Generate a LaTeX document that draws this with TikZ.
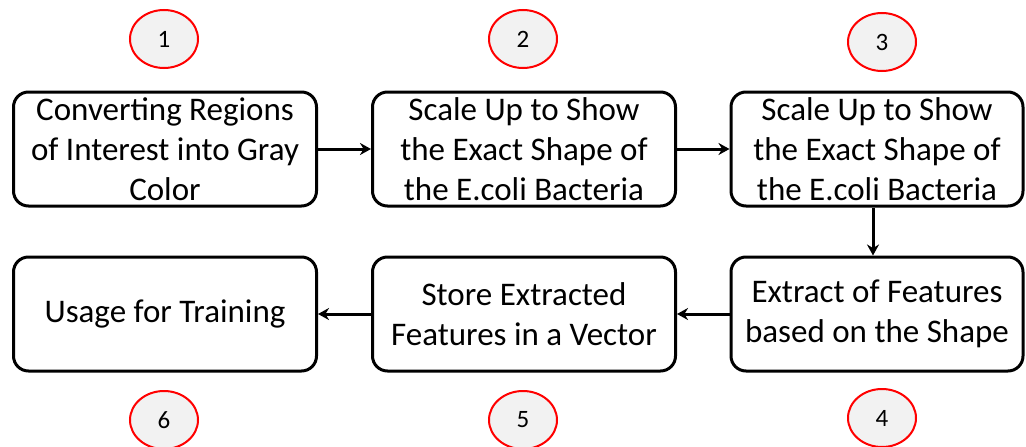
\documentclass[tikz,border=0pt]{standalone}
\usepackage{fontspec}
\setmainfont{Carlito}
\usetikzlibrary{arrows.meta,shapes.geometric}
\begin{document}
\begin{tikzpicture}[x=1pt,y=-1pt,
  stepbox/.style={draw=black, line width=3pt, rounded corners=15pt, fill=white,
    minimum width=303pt, minimum height=114pt, inner sep=0pt, align=center,
    font=\fontsize{33}{40}\selectfont},
  badge/.style={ellipse, draw=red, line width=2pt, fill=gray!10,
    minimum width=68pt, minimum height=58pt, inner sep=0pt,
    font=\fontsize{25}{28}\selectfont},
  flow/.style={line width=3pt, -{Stealth[length=11pt,width=12pt]}}]
\useasboundingbox (0,0) rectangle (1026,447);

% process steps
\node[stepbox] (s1) at (165,149) {Converting Regions\\of Interest into Gray\\Color};
\node[stepbox] (s2) at (524,149) {Scale Up to Show\\the Exact Shape of\\the E.coli Bacteria};
\node[stepbox, minimum width=292pt] (s3) at (877,149) {Scale Up to Show\\the Exact Shape of\\the E.coli Bacteria};
\node[stepbox, minimum width=292pt] (s4) at (877,314) {Extract of Features\\based on the Shape};
\node[stepbox] (s5) at (524,314) {Store Extracted\\Features in a Vector};
\node[stepbox] (s6) at (165,314) {Usage for Training};

% step numbers
\node[badge] (n1) at (164,39) {1};
\node[badge] (n2) at (523,39) {2};
\node[badge] (n3) at (882,42) {3};
\node[badge] (n4) at (882,418) {4};
\node[badge] (n5) at (523,420) {5};
\node[badge] (n6) at (164,420) {6};

% connectors
\coordinate (down) at (873,0);
\draw[flow] (s1.east) -- (s2.west);
\draw[flow] (s2.east) -- (s3.west);
\draw[flow] (s3.south -| down) -- (s4.north -| down);
\draw[flow] (s4.west) -- (s5.east);
\draw[flow] (s5.west) -- (s6.east);
\end{tikzpicture}
\end{document}
